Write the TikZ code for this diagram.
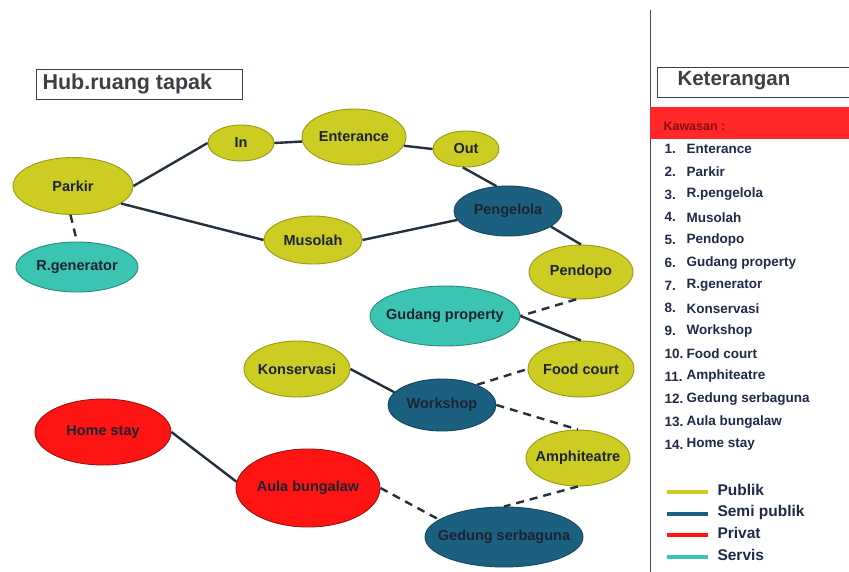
\documentclass[tikz,border=0pt]{standalone}
\usepackage{fontspec}
\setmainfont{Liberation Sans}
\usetikzlibrary{shapes.geometric}
\definecolor{pub}{HTML}{CCCC22}
\definecolor{pubd}{HTML}{9A9A10}
\definecolor{semi}{HTML}{1C6080}
\definecolor{semid}{HTML}{124660}
\definecolor{priv}{HTML}{FF1414}
\definecolor{privd}{HTML}{A01010}
\definecolor{serv}{HTML}{3CC4B2}
\definecolor{servd}{HTML}{2A8C80}
\definecolor{edge}{HTML}{24303E}
\definecolor{txt}{HTML}{1E2230}
\definecolor{lst}{HTML}{1E2A48}
\definecolor{ttl}{HTML}{3C4044}
\begin{document}
\begin{tikzpicture}[x=1pt,y=-1pt,
  bub/.style={ellipse,inner sep=0pt,line width=0.9pt},
  lbl/.style={inner sep=0pt,font=\bfseries\fontsize{14.5}{16}\selectfont,text=txt},
  pubn/.style={bub,fill=pub,draw=pubd},
  semin/.style={bub,fill=semi,draw=semid},
  privn/.style={bub,fill=priv,draw=privd},
  servn/.style={bub,fill=serv,draw=servd},
  solidc/.style={draw=edge,line width=2.4pt},
  dashc/.style={draw=edge,line width=2.4pt,dash pattern=on 8pt off 6pt},
  litem/.style={anchor=west,font=\bfseries\fontsize{13.5}{15}\selectfont,text=lst},
  lline/.style={line width=4pt}]
\useasboundingbox (0,0) rectangle (849,572);
\fill[white] (0,0) rectangle (849,572);
% title
\node[draw=ttl,line width=1pt,minimum width=206pt,minimum height=30pt,inner sep=0pt] (title) at (139,84.5) {};
\node[anchor=west,font=\bfseries\fontsize{21.5}{23}\selectfont,text=ttl] (titlet) at (39,84) {Hub.ruang tapak};
% nodes
\node[pubn,minimum width=120pt,minimum height=57pt] (parkir) at (73,186) {};
\node[servn,minimum width=122pt,minimum height=50pt] (rgen) at (77,267) {};
\node[pubn,minimum width=66pt,minimum height=36pt] (in) at (241,143) {};
\node[pubn,minimum width=104pt,minimum height=56pt] (ent) at (354,137) {};
\node[pubn,minimum width=66pt,minimum height=36pt] (out) at (466,149) {};
\node[pubn,minimum width=98pt,minimum height=48pt] (mus) at (313,240) {};
\node[semin,minimum width=108pt,minimum height=50pt] (peng) at (508,211) {};
\node[pubn,minimum width=104pt,minimum height=54pt] (pend) at (581,272) {};
\node[servn,minimum width=150pt,minimum height=60pt] (gud) at (445,316) {};
\node[pubn,minimum width=106pt,minimum height=56pt] (kons) at (297,369) {};
\node[pubn,minimum width=106pt,minimum height=56pt] (food) at (581,369) {};
\node[semin,minimum width=108pt,minimum height=52pt] (work) at (442,405) {};
\node[privn,minimum width=136pt,minimum height=66pt] (home) at (103,432) {};
\node[privn,minimum width=144pt,minimum height=78pt] (aula) at (308,488) {};
\node[pubn,minimum width=104pt,minimum height=56pt] (amph) at (578,458) {};
\node[semin,minimum width=158pt,minimum height=60pt] (ged) at (504,537) {};
% connectors
\draw[solidc] (parkir.east) -- (in.west);
\draw[solidc] (parkir.-20) -- (mus.west);
\draw[dashc] (parkir.-95) -- (rgen.north);
\draw[solidc] (in.east) -- (ent.185);
\draw[solidc] (ent.-10) -- (out.west);
\draw[solidc] (out.-100) -- (peng.115);
\draw[solidc] (mus.east) -- (peng.190);
\draw[solidc] (peng.-20) -- (pend.north);
\draw[dashc] (pend.-100) -- (gud.east);
\draw[solidc] (gud.east) -- (food.north);
\draw[solidc] (kons.east) -- (work.165);
\draw[dashc] (work.30) -- (food.west);
\draw[dashc] (work.east) -- (amph.north);
\draw[dashc] (amph.south) -- (ged.north);
\draw[dashc] (aula.east) -- (ged.165);
\draw[solidc] (home.east) -- (aula.175);
% labels
\node[lbl] (tparkir) at (parkir) {Parkir};
\node[lbl] (trgen) at (rgen) {R.generator};
\node[lbl] (tin) at (in) {In};
\node[lbl] (tent) at (ent) {Enterance};
\node[lbl] (tout) at (out) {Out};
\node[lbl] (tmus) at (mus) {Musolah};
\node[lbl] (tpeng) at (peng) {Pengelola};
\node[lbl] (tpend) at (pend) {Pendopo};
\node[lbl] (tgud) at (gud) {Gudang property};
\node[lbl] (tkons) at (kons) {Konservasi};
\node[lbl] (tfood) at (food) {Food court};
\node[lbl] (twork) at (work) {Workshop};
\node[lbl] (thome) at (home) {Home stay};
\node[lbl] (taula) at (aula) {Aula bungalaw};
\node[lbl] (tamph) at (amph) {Amphiteatre};
\node[lbl] (tged) at (ged) {Gedung serbaguna};
% legend panel
\coordinate (vt) at (650,10);
\coordinate (vb) at (650,572);
\draw[black!70,line width=0.9pt] (vt) -- (vb);
\node[draw=ttl,line width=1pt,anchor=west,minimum width=200pt,minimum height=30pt,inner sep=0pt] (ket) at (657,83) {};
\node[anchor=west,font=\bfseries\fontsize{20.5}{22}\selectfont,text=ttl] (kett) at (674,81) {Keterangan};
\fill[priv!92!white] (650,107) rectangle (849,139);
\node[anchor=west,font=\bfseries\fontsize{12.5}{14}\selectfont,text=privd!85!black] (kaw) at (660,126) {Kawasan :};
\foreach \n/\t [count=\i from 0] in {1./Enterance,2./Parkir,3./R.pengelola,4./Musolah,5./Pendopo,6./Gudang property,7./R.generator,8./Konservasi,9./Workshop,10./Food court,11./Amphiteatre,12./Gedung serbaguna,13./Aula bungalaw,14./Home stay}{
  \node[litem] (num\i) at (661,149+22.75*\i) {\n};
  \node[litem] (item\i) at (683,149+22.75*\i) {\t};
}
\foreach \c/\t/\y [count=\i] in {pub/Publik/492,semi/Semi publik/514,priv/Privat/535,serv/Servis/557}{
  \coordinate (ls\i) at (667,\y);
  \coordinate (le\i) at (708,\y);
  \draw[lline,\c] (ls\i) -- (le\i);
  \node[anchor=west,font=\bfseries\fontsize{15.5}{17}\selectfont,text=lst] (lt\i) at (714,\y-2) {\t};
}
\end{tikzpicture}
\end{document}
